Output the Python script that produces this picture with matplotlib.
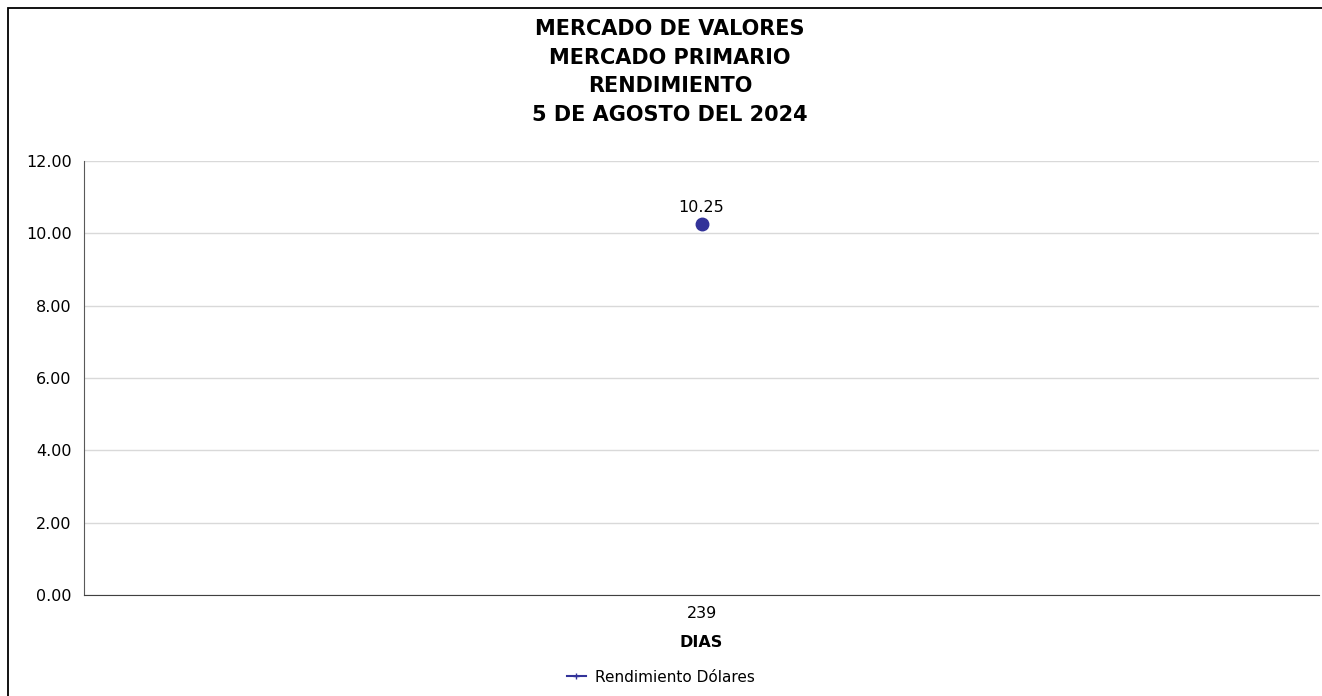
import matplotlib.pyplot as plt
from matplotlib.patches import Rectangle

# chart data
dias = ["239"]
rendimiento = [10.25]
y_ticks = [0, 2, 4, 6, 8, 10, 12]

serie_color = "#333399"

fig = plt.figure(figsize=(13.22, 6.96), dpi=100)
ax = fig.add_axes([84 / 1322, 1 - 595 / 696, (1319 - 84) / 1322, (595 - 161) / 696])

# outer frame (only top and left edges visible in the original)
fig.patches.append(Rectangle((8 / 1322, -0.1), 1.2, 1 - 8 / 696 + 0.1,
                             transform=fig.transFigure, fill=False,
                             edgecolor="black", linewidth=1.3))

x = list(range(len(dias)))
ax.plot(x, rendimiento, color=serie_color, marker="o", markersize=9,
        linewidth=1.5, label="Rendimiento Dólares")
for xi, v in zip(x, rendimiento):
    ax.annotate(f"{v:.2f}", (xi, v), xytext=(0, 7), textcoords="offset points",
                ha="center", va="bottom", fontsize=11.5)

ax.set_xlim(-0.5, len(dias) - 0.5)
ax.set_ylim(0, 12)
ax.set_yticks(y_ticks)
ax.set_yticklabels([f"{t:.2f}" for t in y_ticks], fontsize=11.5)
ax.set_xticks(x)
ax.set_xticklabels(dias, fontsize=11.5)
ax.tick_params(axis="both", length=0, pad=9)
ax.tick_params(axis="x", pad=8)

ax.grid(axis="y", color="#d9d9d9", linewidth=1)
ax.set_axisbelow(True)
for s in ("top", "right"):
    ax.spines[s].set_visible(False)
ax.spines["left"].set_color("#595959")
ax.spines["bottom"].set_color("#404040")

ax.set_xlabel("DIAS", fontsize=11.5, fontweight="bold", labelpad=10)

fig.text(670 / 1322, 1 - 72 / 696, "MERCADO DE VALORES\nMERCADO PRIMARIO\nRENDIMIENTO\n5 DE AGOSTO DEL 2024",
         ha="center", va="center", fontsize=15, fontweight="bold", linespacing=1.55)

ax.legend(handles=[plt.Line2D([0], [0], color=serie_color, marker="+", markersize=5,
                              linewidth=1.5)],
          labels=["Rendimiento Dólares"], loc="center",
          bbox_to_anchor=(0.5, 1 - 677 / 696), bbox_transform=fig.transFigure,
          frameon=False, fontsize=11, handlelength=1.2, handletextpad=0.6)

fig.savefig("out.png", dpi=100)
